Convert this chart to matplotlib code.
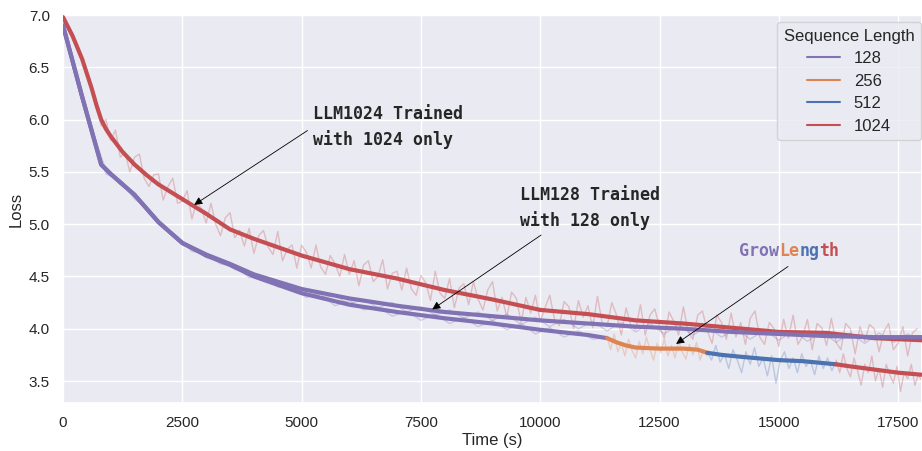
import matplotlib
matplotlib.use('Agg')
import matplotlib.pyplot as plt
from matplotlib.lines import Line2D
from matplotlib.transforms import offset_copy
import seaborn as sns

# smoothed curves (time in s, loss)
llm1024_t = [0, 200, 400, 600, 700, 800, 900, 1000, 1250, 1500, 1750, 2000, 2500, 3000,
             3500, 4000, 5000, 6000, 7000, 8000, 9000, 10000, 11000, 12000, 13000, 14000,
             15000, 16000, 17000, 18000]
llm1024_y = [6.98, 6.80, 6.58, 6.30, 6.14, 6.00, 5.91, 5.84, 5.69, 5.57, 5.47, 5.38, 5.24, 5.10,
             4.95, 4.86, 4.70, 4.57, 4.48, 4.37, 4.28, 4.18, 4.14, 4.08, 4.05, 4.01,
             3.97, 3.96, 3.91, 3.89]

llm128_t = [0, 400, 800, 1000, 1250, 1500, 1750, 2000, 2500, 3000, 3500, 4000, 5000, 6000,
            7000, 8000, 9000, 10000, 11000, 12000, 13000, 14000, 15000, 16000, 17000, 18000]
llm128_y = [6.90, 6.22, 5.57, 5.48, 5.38, 5.28, 5.15, 5.02, 4.82, 4.71, 4.62, 4.52, 4.38, 4.29,
            4.22, 4.16, 4.12, 4.08, 4.05, 4.02, 4.00, 3.97, 3.95, 3.93, 3.92, 3.92]

# GrowLength stages
g128_t = [0, 400, 800, 1000, 1250, 1500, 1750, 2000, 2500, 3000, 3500, 4000, 5000, 6000,
          7000, 8000, 9000, 10000, 11000, 11400]
g128_y = [6.90, 6.22, 5.57, 5.48, 5.38, 5.28, 5.15, 5.02, 4.82, 4.70, 4.61, 4.50, 4.34, 4.23,
          4.16, 4.10, 4.05, 3.99, 3.94, 3.91]
g256_t = [11400, 11600, 11800, 12000, 12500, 13000, 13300, 13500]
g256_y = [3.91, 3.87, 3.84, 3.82, 3.81, 3.81, 3.80, 3.77]
g512_t = [13500, 13800, 14250, 15000, 15500, 16200]
g512_y = [3.77, 3.75, 3.73, 3.70, 3.69, 3.66]
g1024_t = [16200, 16500, 17000, 17500, 18000]
g1024_y = [3.66, 3.64, 3.61, 3.58, 3.56]

# raw (unsmoothed) losses
raw1024_t = list(range(0, 18000, 100))
raw1024_y = [7.00, 6.88, 6.83, 6.67, 6.59, 6.41, 6.32, 6.18, 5.94, 6.00,
             5.80, 5.90, 5.64, 5.69, 5.50, 5.64, 5.67, 5.44, 5.36, 5.47,
             5.48, 5.23, 5.36, 5.44, 5.20, 5.22, 5.32, 5.05, 5.21, 5.15,
             5.01, 5.20, 5.00, 4.89, 5.06, 5.11, 4.87, 4.94, 4.79, 4.96,
             4.72, 4.89, 4.94, 4.78, 4.71, 4.93, 4.65, 4.76, 4.80, 4.58,
             4.80, 4.73, 4.58, 4.80, 4.59, 4.52, 4.70, 4.62, 4.50, 4.71,
             4.52, 4.65, 4.41, 4.61, 4.65, 4.45, 4.50, 4.66, 4.38, 4.53,
             4.55, 4.37, 4.58, 4.38, 4.32, 4.51, 4.44, 4.27, 4.55, 4.34,
             4.29, 4.48, 4.20, 4.39, 4.43, 4.23, 4.45, 4.28, 4.18, 4.37,
             4.45, 4.17, 4.30, 4.11, 4.35, 4.29, 4.06, 4.30, 4.15, 4.32,
             4.07, 4.20, 4.32, 4.09, 4.03, 4.26, 4.21, 4.00, 4.27, 4.11,
             4.22, 4.01, 4.31, 4.05, 4.02, 4.25, 4.13, 3.94, 4.20, 4.03,
             3.99, 4.23, 3.94, 4.13, 4.19, 4.02, 3.91, 4.16, 4.07, 3.94,
             4.21, 3.97, 3.90, 4.13, 4.17, 3.98, 3.86, 4.13, 4.06, 3.90,
             4.15, 3.92, 4.06, 3.85, 4.10, 4.17, 3.92, 3.85, 4.06, 4.00,
             3.83, 4.09, 3.91, 4.13, 3.85, 3.93, 4.09, 3.80, 4.05, 4.01,
             3.84, 4.10, 3.87, 3.80, 4.05, 4.00, 3.76, 4.02, 3.88, 4.04,
             4.00, 3.78, 3.97, 4.05, 3.80, 3.86, 4.02, 3.74, 3.96, 4.00]

raw128_t = list(range(0, 18001, 300))
raw128_y = [6.90, 6.40, 5.90, 5.52, 5.38, 5.30, 5.10, 5.00, 4.84, 4.78,
            4.68, 4.66, 4.57, 4.54, 4.46, 4.46, 4.36, 4.38, 4.30, 4.31,
            4.24, 4.28, 4.20, 4.25, 4.16, 4.21, 4.13, 4.18, 4.10, 4.16,
            4.08, 4.14, 4.04, 4.11, 4.02, 4.09, 4.00, 4.07, 3.98, 4.06,
            3.97, 4.05, 3.95, 4.04, 3.94, 4.02, 3.92, 4.00, 3.90, 3.99,
            3.89, 3.98, 3.88, 3.97, 3.87, 3.96, 3.86, 3.96, 3.87, 3.95,
            3.88]

rawg128_t = list(range(0, 11401, 300))
rawg128_y = [6.88, 6.34, 5.86, 5.48, 5.42, 5.24, 5.14, 4.96, 4.88, 4.74,
             4.72, 4.62, 4.60, 4.49, 4.50, 4.40, 4.39, 4.30, 4.33, 4.22,
             4.27, 4.18, 4.21, 4.12, 4.17, 4.08, 4.14, 4.05, 4.11, 4.02,
             4.08, 3.99, 4.05, 3.95, 4.01, 3.92, 3.98, 3.90, 3.92]

rawg256_t = list(range(11400, 13501, 75))
rawg256_y = [3.93, 3.80, 3.95, 3.78, 3.86, 3.74, 3.90, 3.79, 3.72, 3.88,
             3.76, 3.92, 3.80, 3.70, 3.86, 3.77, 3.90, 3.74, 3.84, 3.72,
             3.88, 3.78, 3.71, 3.85, 3.75, 3.87, 3.70, 3.80, 3.74]

rawg512_t = list(range(13500, 16201, 90))
rawg512_y = [3.78, 3.70, 3.84, 3.68, 3.76, 3.62, 3.80, 3.70, 3.58, 3.78,
             3.66, 3.82, 3.64, 3.72, 3.55, 3.74, 3.48, 3.70, 3.78, 3.62,
             3.72, 3.58, 3.76, 3.64, 3.70, 3.56, 3.74, 3.62, 3.72, 3.60,
             3.68]

rawg1024_t = list(range(16200, 18001, 75))
rawg1024_y = [3.70, 3.58, 3.76, 3.62, 3.54, 3.72, 3.60, 3.46, 3.66, 3.58,
              3.74, 3.50, 3.62, 3.44, 3.66, 3.56, 3.48, 3.64, 3.40, 3.58,
              3.52, 3.66, 3.46, 3.56, 3.50]

seq_labels = ['128', '256', '512', '1024']
colors = {'128': '#8172B3', '256': '#DD8452', '512': '#4C72B0', '1024': '#C44E52'}


def main():
    sns.set_theme(style='darkgrid')
    plt.rcParams['font.family'] = ['Liberation Sans', 'DejaVu Sans']

    fig = plt.figure(figsize=(9.22, 4.51), dpi=100)
    ax = fig.add_axes([63 / 922, 48 / 451, 1 - 63 / 922, 388 / 451])

    # raw curves underneath
    raw_kw = dict(linewidth=1, alpha=0.3, zorder=1)
    ax.plot(raw1024_t, raw1024_y, color=colors['1024'], **raw_kw)
    ax.plot(raw128_t, raw128_y, color=colors['128'], **raw_kw)
    ax.plot(rawg128_t, rawg128_y, color=colors['128'], **raw_kw)
    ax.plot(rawg256_t, rawg256_y, color=colors['256'], **raw_kw)
    ax.plot(rawg512_t, rawg512_y, color=colors['512'], **raw_kw)
    ax.plot(rawg1024_t, rawg1024_y, color=colors['1024'], **raw_kw)

    # smoothed curves
    lw = 3
    ax.plot(llm1024_t, llm1024_y, color=colors['1024'], linewidth=lw, zorder=3)
    ax.plot(g128_t, g128_y, color=colors['128'], linewidth=lw, zorder=3)
    ax.plot(llm128_t, llm128_y, color=colors['128'], linewidth=lw, zorder=4)
    ax.plot(g256_t, g256_y, color=colors['256'], linewidth=lw, zorder=3)
    ax.plot(g512_t, g512_y, color=colors['512'], linewidth=lw, zorder=3)
    ax.plot(g1024_t, g1024_y, color=colors['1024'], linewidth=lw, zorder=3)

    ax.set_xlim(0, 18000)
    ax.set_ylim(3.29, 6.985)
    ax.set_xticks([0, 2500, 5000, 7500, 10000, 12500, 15000, 17500])
    ax.set_yticks([3.5, 4.0, 4.5, 5.0, 5.5, 6.0, 6.5, 7.0])
    ax.tick_params(labelsize=11)
    ax.set_xlabel('Time (s)', fontsize=12, labelpad=2)
    ax.set_ylabel('Loss', fontsize=12, labelpad=4)

    # annotations
    mono = dict(family='DejaVu Sans Mono', fontweight='bold', fontsize=12)
    arrow = dict(arrowstyle='-|>', color='black', lw=0.6, mutation_scale=12)
    ax.annotate('LLM1024 Trained\nwith 1024 only', xy=(2700, 5.17), xytext=(5240, 5.93),
                ha='left', va='center', linespacing=1.5,
                arrowprops=dict(relpos=(0, 0.5), **arrow), zorder=6, **mono)
    ax.annotate('LLM128 Trained\nwith 128 only', xy=(7690, 4.17), xytext=(9580, 5.155),
                ha='left', va='center', linespacing=1.5,
                arrowprops=dict(relpos=(0.2, 0), **arrow), zorder=6, **mono)
    ax.annotate('', xy=(12800, 3.84), xytext=(15240, 4.61), arrowprops=arrow, zorder=6)

    # GrowLength coloured word
    parts = [('Grow', colors['128']), ('Le', colors['256']),
             ('ng', colors['512']), ('th', colors['1024'])]
    adv = 0.602 * 12  # monospace advance in points
    shift = 0
    for txt, c in parts:
        tr = offset_copy(ax.transData, fig=fig, x=shift, y=0, units='points')
        ax.text(14170, 4.746, txt, color=c, transform=tr, ha='left', va='center',
                zorder=6, **mono)
        shift += adv * len(txt)

    handles = [Line2D([0], [0], color=colors[s], linewidth=1.5) for s in seq_labels]
    leg = ax.legend(handles, seq_labels, title='Sequence Length', loc='upper left',
                    bbox_to_anchor=((777 - 63) / 859, (403 - 22) / 388),
                    borderaxespad=0, fontsize=12, title_fontsize=12,
                    labelspacing=0.45)
    leg.set_zorder(10)

    fig.savefig('out.png', dpi=100)


if __name__ == '__main__':
    main()
